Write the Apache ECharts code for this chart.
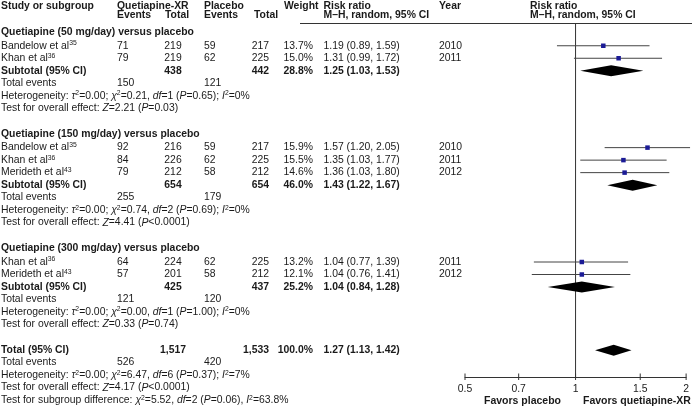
<!DOCTYPE html>
<html><head><meta charset="utf-8">
<script src="https://cdn.jsdelivr.net/npm/echarts@6/dist/echarts.min.js"></script>
<style>html,body{margin:0;padding:0;background:#fff}#c{width:692px;height:409px}</style>
</head><body><div id="c"></div><script>
// ---------------- data ----------------
const groupNames = ['Quetiapine (50 mg/day) versus placebo', 'Quetiapine (150 mg/day) versus placebo', 'Quetiapine (300 mg/day) versus placebo'];
const studyNames = ['Bandelow et al', 'Khan et al', 'Bandelow et al', 'Khan et al', 'Merideth et al', 'Khan et al', 'Merideth et al'];
const studyRefs = ['35', '36', '35', '36', '43', '36', '43'];
const studyGroup = [0, 0, 1, 1, 1, 2, 2];
const qEvents = [71, 79, 92, 84, 79, 64, 57];
const qTotal = [219, 219, 216, 226, 212, 224, 201];
const pEvents = [59, 62, 59, 62, 58, 62, 58];
const pTotal = [217, 225, 217, 225, 212, 225, 212];
const studyWeight = [13.7, 15.0, 15.9, 15.5, 14.6, 13.2, 12.1];
const studyRR = [1.19, 1.31, 1.57, 1.35, 1.36, 1.04, 1.04];
const studyLo = [0.89, 0.99, 1.20, 1.03, 1.03, 0.77, 0.76];
const studyHi = [1.59, 1.72, 2.05, 1.77, 1.80, 1.39, 1.41];
const studyYear = [2010, 2011, 2010, 2011, 2012, 2011, 2012];

const subQTotal = [438, 654, 425];
const subPTotal = [442, 654, 437];
const subWeight = [28.8, 46.0, 25.2];
const subRR = [1.25, 1.43, 1.04];
const subLo = [1.03, 1.22, 0.84];
const subHi = [1.53, 1.67, 1.28];
const subQEvents = [150, 255, 121];
const subPEvents = [121, 179, 120];
const hetTau2 = ['0.00', '0.00', '0.00'];
const hetChi2 = ['0.21', '0.74', '0.00'];
const hetDf = [1, 2, 1];
const hetP = ['0.65', '0.69', '1.00'];
const hetI2 = ['0', '0', '0'];
const effZ = ['2.21', '4.41', '0.33'];
const effP = ['=0.03', '<0.0001', '=0.74'];

const totalQTotal = 1517, totalPTotal = 1533, totalWeight = 100.0;
const totalRR = 1.27, totalLo = 1.13, totalHi = 1.42;
const totalQEvents = 526, totalPEvents = 420;
const totalHet = { tau2: '0.00', chi2: '6.47', df: 6, p: '0.37', i2: '7' };
const totalEff = { z: '4.17', p: '<0.0001' };
const subgroupDiff = { chi2: '5.52', df: 2, p: '0.06', i2: '63.8' };

const xTicks = [0.5, 0.7, 1, 1.5, 2];

// ---------------- layout ----------------
const FONT = '"Liberation Sans", Arial, Helvetica, sans-serif';
const FS = 10.4;
const TXT = '#1a1a1a';
const PITCH = 12.5;               // px per row unit
const AXIS_Y = 377;               // pixel of forest x-axis
const yMin = -32 / PITCH;
const yMax = yMin + AXIS_Y / PITCH;
const COL = { name: 1, qEv: 117, qTot: 173, pEv: 204, pTot: 269, w: 313, rr: 323.5, year: 439, plot: 530 };

const fmtN = v => v.toLocaleString('en-US');
const fmtCI = (r, l, h) => `${r.toFixed(2)} (${l.toFixed(2)}, ${h.toFixed(2)})`;
const hetText = (t, c, d, p, i) => `Heterogeneity: {i|τ}{s|2}=${t}; {i|χ}{s|2}=${c}, {i|df}=${d} ({i|P}=${p}); {i|I}{s|2}=${i}%`;
const effText = (z, p) => `Test for overall effect: {i|Z}=${z} ({i|P}${p})`;

const textRows = [];
const studyPos = [], subPos = [];
textRows.push({ pos: (6.5 - 32) / PITCH, cells: [
  { x: COL.name, t: 'Study or subgroup', b: 1 }, { x: COL.qEv, t: 'Quetiapine-XR', b: 1 },
  { x: COL.pEv, t: 'Placebo', b: 1 }, { x: 284, t: 'Weight', b: 1 },
  { x: COL.rr, t: 'Risk ratio', b: 1 }, { x: COL.year, t: 'Year', b: 1 }, { x: COL.plot, t: 'Risk ratio', b: 1 }] });
textRows.push({ pos: (15.5 - 32) / PITCH, cells: [
  { x: COL.qEv, t: 'Events', b: 1 }, { x: 165, t: 'Total', b: 1 }, { x: COL.pEv, t: 'Events', b: 1 },
  { x: 254, t: 'Total', b: 1 }, { x: COL.rr, t: 'M–H, random, 95% CI', b: 1 }, { x: COL.plot, t: 'M–H, random, 95% CI', b: 1 }] });

let pos = 0;
groupNames.forEach((g, gi) => {
  textRows.push({ pos, cells: [{ x: COL.name, t: g, b: 1 }] });
  pos += 1.1;
  studyNames.forEach((n, i) => {
    if (studyGroup[i] !== gi) return;
    studyPos[i] = pos;
    textRows.push({ pos, cells: [
      { x: COL.name, t: `${n}{s|${studyRefs[i]}}` },
      { x: COL.qEv, t: String(qEvents[i]) },
      { x: COL.qTot, t: String(qTotal[i]), a: 'center' },
      { x: COL.pEv, t: String(pEvents[i]) },
      { x: COL.pTot, t: String(pTotal[i]), a: 'right' },
      { x: COL.w, t: studyWeight[i].toFixed(1) + '%', a: 'right' },
      { x: COL.rr, t: fmtCI(studyRR[i], studyLo[i], studyHi[i]) },
      { x: COL.year, t: String(studyYear[i]) }] });
    pos += 1;
  });
  subPos[gi] = pos;
  textRows.push({ pos, cells: [
    { x: COL.name, t: 'Subtotal (95% CI)', b: 1 },
    { x: COL.qTot, t: fmtN(subQTotal[gi]), a: 'center', b: 1 },
    { x: COL.pTot, t: fmtN(subPTotal[gi]), a: 'right', b: 1 },
    { x: COL.w, t: subWeight[gi].toFixed(1) + '%', a: 'right', b: 1 },
    { x: COL.rr, t: fmtCI(subRR[gi], subLo[gi], subHi[gi]), b: 1 }] });
  pos += 1;
  textRows.push({ pos, cells: [{ x: COL.name, t: 'Total events' }, { x: COL.qEv, t: String(subQEvents[gi]) }, { x: COL.pEv, t: String(subPEvents[gi]) }] });
  pos += 1;
  textRows.push({ pos, cells: [{ x: COL.name, t: hetText(hetTau2[gi], hetChi2[gi], hetDf[gi], hetP[gi], hetI2[gi]) }] });
  pos += 1;
  textRows.push({ pos, cells: [{ x: COL.name, t: effText(effZ[gi], effP[gi]) }] });
  pos += 2.05;
});
const totalPos = pos;
textRows.push({ pos, cells: [
  { x: COL.name, t: 'Total (95% CI)', b: 1 },
  { x: COL.qTot, t: fmtN(totalQTotal), a: 'center', b: 1 },
  { x: COL.pTot, t: fmtN(totalPTotal), a: 'right', b: 1 },
  { x: COL.w, t: totalWeight.toFixed(1) + '%', a: 'right', b: 1 },
  { x: COL.rr, t: fmtCI(totalRR, totalLo, totalHi), b: 1 }] });
pos += 1;
textRows.push({ pos, cells: [{ x: COL.name, t: 'Total events' }, { x: COL.qEv, t: String(totalQEvents) }, { x: COL.pEv, t: String(totalPEvents) }] });
pos += 1;
textRows.push({ pos, cells: [{ x: COL.name, t: hetText(totalHet.tau2, totalHet.chi2, totalHet.df, totalHet.p, totalHet.i2) }] });
pos += 1;
textRows.push({ pos, cells: [{ x: COL.name, t: effText(totalEff.z, totalEff.p) }] });
pos += 1;
textRows.push({ pos, cells: [{ x: COL.name, t: `Test for subgroup difference: {i|χ}{s|2}=${subgroupDiff.chi2}, {i|df}=${subgroupDiff.df} ({i|P}=${subgroupDiff.p}), {i|I}{s|2}=${subgroupDiff.i2}%` }] });

const RICH = {
  i: { fontStyle: 'italic', fontSize: FS, fontFamily: FONT, fill: TXT, lineHeight: 12 },
  s: { fontSize: 6.8, fontFamily: FONT, fill: TXT, verticalAlign: 'top', lineHeight: 8 }
};

const L = Math.log;
const studyData = studyRR.map((r, i) => [L(r), L(studyLo[i]), L(studyHi[i]), studyPos[i], studyWeight[i]]);
const diamondData = subRR.map((r, i) => [L(r), L(subLo[i]), L(subHi[i]), subPos[i]])
  .concat([[L(totalRR), L(totalLo), L(totalHi), totalPos]]);

const chart = echarts.init(document.getElementById('c'));
chart.setOption({
  animation: false,
  backgroundColor: '#fff',
  grid: { left: 465, right: 3, top: 0, bottom: 409 - AXIS_Y },
  xAxis: {
    type: 'value', min: L(0.5), max: L(2),
    axisLine: { show: true, onZero: false, lineStyle: { color: '#333', width: 1 } },
    axisTick: { show: false }, splitLine: { show: false },
    axisLabel: {
      customValues: xTicks.map(L), margin: 7, color: TXT, fontSize: FS, fontFamily: FONT,
      formatter: v => String(Math.round(Math.exp(v) * 10) / 10)
    }
  },
  yAxis: { type: 'value', inverse: true, min: yMin, max: yMax, show: false },
  graphic: [
    { type: 'line', shape: { x1: 300, y1: 23.5, x2: 692, y2: 23.5 }, style: { stroke: '#333', lineWidth: 1 } },
    { type: 'text', style: { text: 'Favors placebo', x: 561, y: 401, align: 'right', verticalAlign: 'middle', fontSize: 10.5, fontWeight: 'bold', fontFamily: FONT, fill: TXT } },
    { type: 'text', style: { text: 'Favors quetiapine-XR', x: 583, y: 401, align: 'left', verticalAlign: 'middle', fontSize: 10.5, fontWeight: 'bold', fontFamily: FONT, fill: TXT } }
  ],
  series: [
    { // table text
      type: 'custom', silent: true, clip: false,
      data: textRows.map((r, i) => [0, r.pos]),
      renderItem: (params, api) => {
        const r = textRows[params.dataIndex];
        const y = api.coord([0, r.pos])[1];
        return { type: 'group', children: r.cells.map(c => ({
          type: 'text', silent: true,
          style: { text: c.t, x: c.x, y, align: c.a || 'left', verticalAlign: 'middle',
            fontSize: FS, fontFamily: FONT, fontWeight: c.b ? 'bold' : 'normal', fill: TXT, rich: RICH, lineHeight: 12 }
        })) };
      }
    },
    { // reference line at RR = 1
      type: 'custom', silent: true, clip: false,
      data: [[L(1), (23.5 - 32) / PITCH, yMax]],
      renderItem: (params, api) => {
        const a = api.coord([api.value(0), api.value(1)]);
        const b = api.coord([api.value(0), api.value(2)]);
        return { type: 'line', shape: { x1: a[0], y1: a[1], x2: b[0], y2: b[1] }, style: { stroke: '#333', lineWidth: 1 } };
      }
    },
    { // axis ticks crossing the axis line
      type: 'custom', silent: true, clip: false,
      data: xTicks.map(v => [L(v), yMax]),
      renderItem: (params, api) => {
        const p = api.coord([api.value(0), api.value(1)]);
        return { type: 'line', shape: { x1: p[0], y1: p[1] - 3.5, x2: p[0], y2: p[1] + 3 }, style: { stroke: '#333', lineWidth: 1 } };
      }
    },
    { // study CIs and squares
      type: 'custom', silent: true, clip: false,
      data: studyData,
      renderItem: (params, api) => {
        const y = api.value(3);
        const c = api.coord([api.value(0), y]);
        const a = api.coord([api.value(1), y]);
        const b = api.coord([api.value(2), y]);
        const s = 4.5;
        return { type: 'group', children: [
          { type: 'line', shape: { x1: a[0], y1: c[1], x2: b[0], y2: c[1] }, style: { stroke: '#444', lineWidth: 1 } },
          { type: 'rect', shape: { x: c[0] - s / 2, y: c[1] - s / 2, width: s, height: s }, style: { fill: '#1b1b96' } }
        ] };
      }
    },
    { // pooled diamonds
      type: 'custom', silent: true, clip: false,
      data: diamondData,
      renderItem: (params, api) => {
        const y = api.value(3);
        const c = api.coord([api.value(0), y]);
        const a = api.coord([api.value(1), y]);
        const b = api.coord([api.value(2), y]);
        const h = 5.5;
        return { type: 'polygon', shape: { points: [[a[0], c[1]], [c[0], c[1] - h], [b[0], c[1]], [c[0], c[1] + h]] }, style: { fill: '#000' } };
      }
    }
  ]
});
</script></body></html>
